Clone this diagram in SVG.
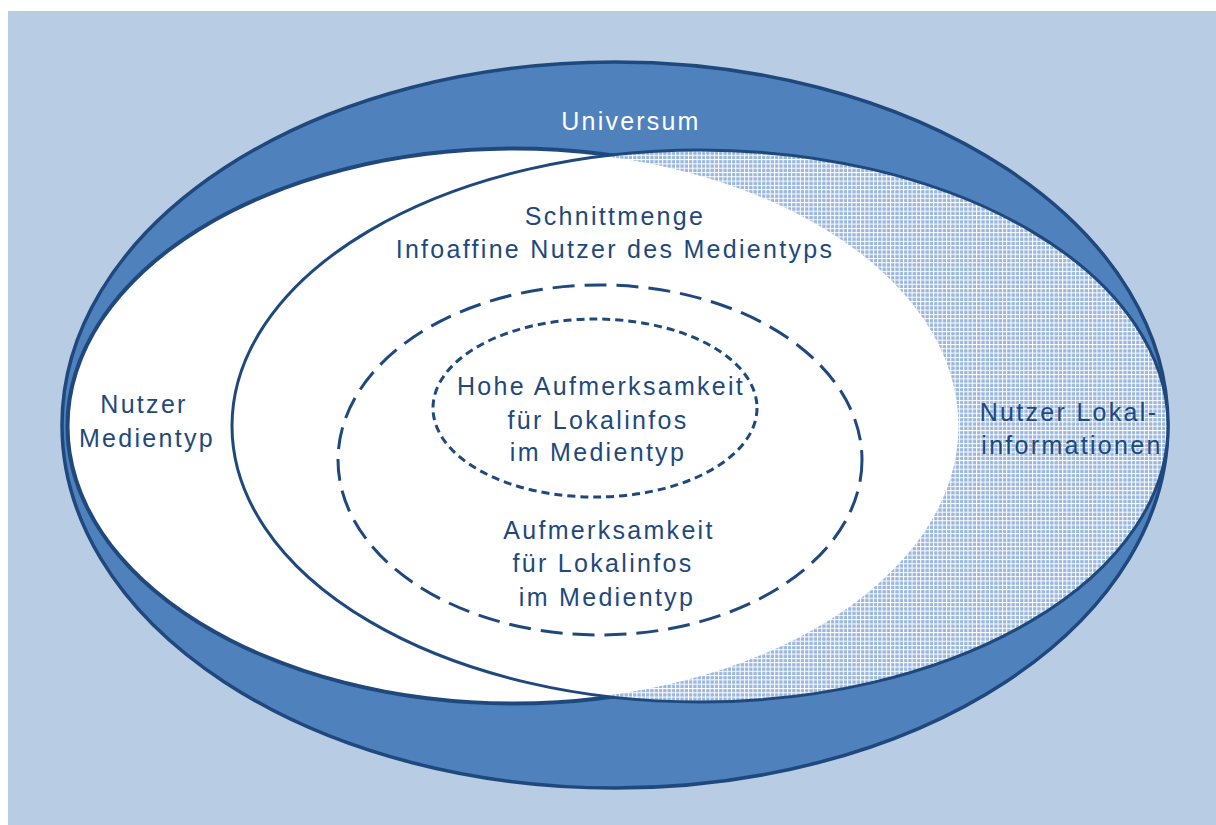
<svg xmlns="http://www.w3.org/2000/svg" width="1216" height="825" viewBox="0 0 1216 825">
<defs>
<pattern id="grid" width="4.3" height="4.3" patternUnits="userSpaceOnUse">
<rect width="4.3" height="4.3" fill="#9BB7DE"/>
<rect x="0" y="0" width="1" height="4.3" fill="#FFFFFF"/>
<rect x="0" y="0" width="4.3" height="1" fill="#FFFFFF"/>
</pattern>
<style>
.lbl{font-family:"Liberation Sans",Arial,sans-serif;font-size:25px;fill:#1F497D;text-anchor:middle;letter-spacing:2.3px}
.uni{font-family:"Liberation Sans",Arial,sans-serif;font-size:25px;fill:#FFFFFF;text-anchor:middle;letter-spacing:2.2px}
.ln{fill:none;stroke:#1F497D;stroke-width:3}
</style>
</defs>
<rect x="8" y="11" width="1208" height="814" fill="#B8CCE4"/>
<g id="universum">
<ellipse cx="615" cy="425" rx="553" ry="363" fill="#4F81BD" stroke="#1F497D" stroke-width="3.5"/>
<text class="uni" x="631" y="130">Universum</text>
</g>
<g id="nutzer-medientyp">
<ellipse cx="514" cy="426" rx="446" ry="277" fill="#FFFFFF" stroke="#1F497D" stroke-width="5"/>
</g>
<g id="nutzer-lokalinformationen">
<ellipse cx="700" cy="426" rx="468" ry="276" fill="url(#grid)"/>
<ellipse cx="514" cy="426" rx="444.5" ry="275.5" fill="#FFFFFF"/>
<ellipse class="ln" cx="700" cy="426" rx="468" ry="276"/>
<text class="lbl" x="1069" y="421">Nutzer Lokal-</text>
<text class="lbl" x="1072" y="454">informationen</text>
</g>
<g id="label-nutzer-medientyp">
<text class="lbl" x="144" y="413">Nutzer</text>
<text class="lbl" x="147" y="447">Medientyp</text>
</g>
<g id="schnittmenge">
<text class="lbl" x="615" y="225">Schnittmenge</text>
<text class="lbl" x="615" y="258">Infoaffine Nutzer des Medientyps</text>
</g>
<g id="aufmerksamkeit">
<ellipse class="ln" cx="600" cy="460" rx="262" ry="175" stroke-dasharray="22 10"/>
<text class="lbl" x="609" y="539">Aufmerksamkeit</text>
<text class="lbl" x="603" y="572">für Lokalinfos</text>
<text class="lbl" x="607" y="606">im Medientyp</text>
</g>
<g id="hohe-aufmerksamkeit">
<ellipse class="ln" cx="595" cy="408" rx="162" ry="89" stroke-dasharray="8 5"/>
<text class="lbl" x="601" y="395">Hohe Aufmerksamkeit</text>
<text class="lbl" x="598" y="429">für Lokalinfos</text>
<text class="lbl" x="598" y="461">im Medientyp</text>
</g>
<g id="connectors"></g>
</svg>
